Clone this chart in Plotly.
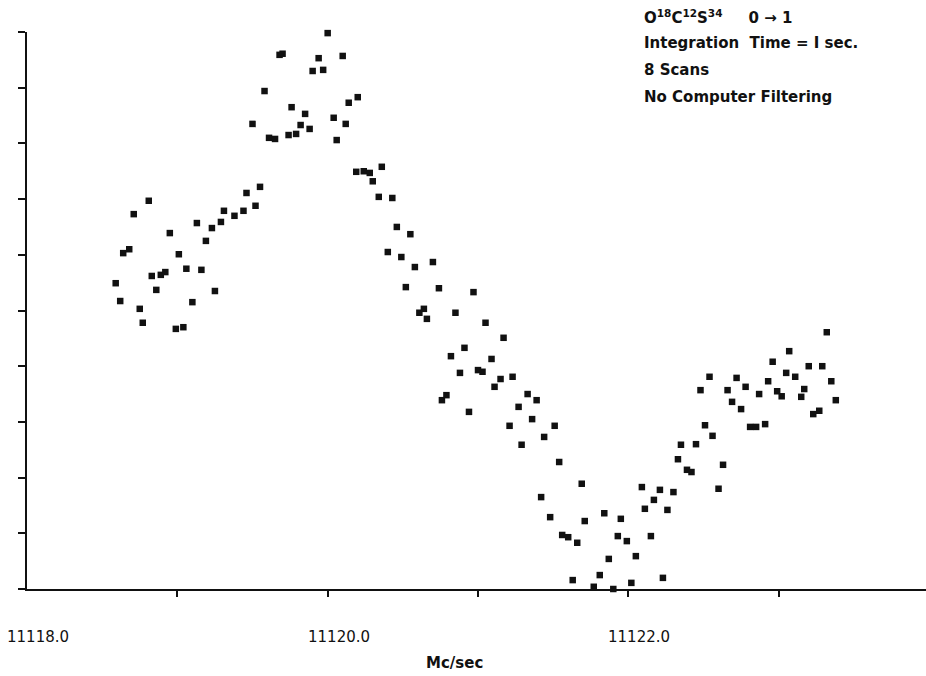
import plotly.graph_objects as go

# Frequency (Mc/sec) and relative intensity (arbitrary units, 0-100)
freq = [
    11118.59, 11118.62, 11118.64, 11118.68, 11118.71, 11118.75, 11118.77, 11118.81, 11118.83, 11118.86,
    11118.89, 11118.92, 11118.95, 11118.99, 11119.01, 11119.04, 11119.06, 11119.10, 11119.13, 11119.16,
    11119.19, 11119.23, 11119.25, 11119.29, 11119.31, 11119.38, 11119.44, 11119.46, 11119.50, 11119.52,
    11119.55, 11119.58, 11119.61, 11119.65, 11119.68, 11119.70, 11119.74, 11119.76, 11119.79, 11119.82,
    11119.85, 11119.88, 11119.90, 11119.94, 11119.97, 11120.00, 11120.04, 11120.06, 11120.10, 11120.12,
    11120.14, 11120.19, 11120.20, 11120.24, 11120.28, 11120.30, 11120.34, 11120.36, 11120.40, 11120.43,
    11120.46, 11120.49, 11120.52, 11120.55, 11120.58, 11120.61, 11120.64, 11120.66, 11120.70, 11120.74,
    11120.76, 11120.79, 11120.82, 11120.85, 11120.88, 11120.91, 11120.94, 11120.97, 11121.00, 11121.03,
    11121.05, 11121.09, 11121.11, 11121.15, 11121.17, 11121.21, 11121.23, 11121.27, 11121.29, 11121.33,
    11121.36, 11121.39, 11121.42, 11121.44, 11121.48, 11121.51, 11121.54, 11121.56, 11121.60, 11121.63,
    11121.66, 11121.69, 11121.71, 11121.77, 11121.81, 11121.84, 11121.87, 11121.90, 11121.93, 11121.95,
    11121.99, 11122.02, 11122.05, 11122.09, 11122.11, 11122.15, 11122.17, 11122.21, 11122.23, 11122.26,
    11122.30, 11122.33, 11122.35, 11122.39, 11122.42, 11122.45, 11122.48, 11122.51, 11122.54, 11122.56,
    11122.60, 11122.63, 11122.66, 11122.69, 11122.72, 11122.75, 11122.78, 11122.81, 11122.85, 11122.87,
    11122.91, 11122.93, 11122.96, 11122.99, 11123.02, 11123.05, 11123.07, 11123.11, 11123.15, 11123.17,
    11123.20, 11123.23, 11123.27, 11123.29, 11123.32, 11123.35, 11123.38,
]
intensity = [
    54.9, 51.7, 60.3, 61.0, 67.3, 50.3, 47.8, 69.7, 56.2, 53.7,
    56.4, 56.9, 63.9, 46.7, 60.1, 47.0, 57.5, 51.5, 65.7, 57.3,
    62.5, 64.8, 53.5, 65.9, 67.9, 67.0, 67.9, 71.1, 83.5, 68.8,
    72.2, 89.4, 81.0, 80.8, 95.9, 96.1, 81.5, 86.5, 81.7, 83.3,
    85.3, 82.6, 93.0, 95.3, 93.2, 99.8, 84.6, 80.6, 95.7, 83.5,
    87.3, 74.9, 88.3, 75.0, 74.7, 73.2, 70.4, 75.8, 60.5, 70.2,
    65.0, 59.6, 54.2, 63.7, 57.8, 49.6, 50.3, 48.5, 58.7, 54.0,
    33.9, 34.8, 41.8, 49.6, 38.8, 43.3, 31.8, 53.3, 39.3, 39.0,
    47.8, 41.3, 36.3, 37.7, 45.1, 29.3, 38.1, 32.7, 25.9, 35.0,
    30.5, 33.9, 16.5, 27.3, 12.9, 29.3, 22.8, 9.7, 9.3, 1.6,
    8.3, 18.9, 12.2, 0.4, 2.5, 13.6, 5.4, 0.0, 9.5, 12.6,
    8.6, 1.1, 5.9, 18.3, 14.4, 9.5, 16.0, 17.8, 2.0, 14.2,
    17.4, 23.3, 25.9, 21.4, 21.0, 26.0, 35.7, 29.4, 38.1, 27.5,
    18.0, 22.3, 35.7, 33.6, 37.9, 32.3, 36.3, 29.1, 29.1, 35.0,
    29.6, 37.3, 40.8, 35.5, 34.6, 38.8, 42.7, 38.1, 34.5, 35.9,
    40.0, 31.4, 32.0, 40.0, 46.1, 37.3, 33.9,
]

x_tick_vals = [11119, 11120, 11121, 11122, 11123]
x_label_vals = [11118.0, 11120.0, 11122.0]
x_label_text = ["11118.0", "11120.0", "11122.0"]
y_tick_vals = [0, 10, 20, 30, 40, 50, 60, 70, 80, 90, 100]

note_lines = [
    "O<sup>18</sup>C<sup>12</sup>S<sup>34</sup>     0 \u2192 1",
    "Integration  Time = I sec.",
    "8 Scans",
    "No Computer Filtering",
]

FONT = "DejaVu Sans"

fig = go.Figure()
fig.add_trace(go.Scatter(
    x=freq, y=intensity, mode="markers",
    marker=dict(symbol="square", size=6.5, color="#111111",
                line=dict(width=0)),
    cliponaxis=False, showlegend=False, hoverinfo="skip",
))

fig.update_layout(
    width=926, height=676,
    margin=dict(l=27, r=0, t=32, b=87),
    paper_bgcolor="white", plot_bgcolor="white",
    font=dict(family=FONT, color="#111111"),
    xaxis=dict(
        range=[11118.0, 11123.98], showgrid=False, zeroline=False,
        showline=True, linecolor="#111111", linewidth=2,
        tickmode="array", tickvals=x_tick_vals, showticklabels=False,
        ticks="outside", ticklen=6, tickwidth=1.5, tickcolor="#111111",
    ),
    yaxis=dict(
        range=[0, 100], showgrid=False, zeroline=False,
        showline=True, linecolor="#111111", linewidth=2,
        tickmode="array", tickvals=y_tick_vals, showticklabels=False,
        ticks="outside", ticklen=7, tickwidth=1.5, tickcolor="#111111",
    ),
)

for v, t in zip(x_label_vals, x_label_text):
    fig.add_annotation(x=v, y=0, xref="x", yref="y", yshift=-48, xshift=11,
                       text=t, showarrow=False, xanchor="center", yanchor="middle",
                       font=dict(family=FONT, size=15, color="#111111"))

fig.add_annotation(x=0.475, y=-0.133, xref="paper", yref="paper", text="<b>Mc/sec</b>",
                   showarrow=False, xanchor="center", yanchor="middle",
                   font=dict(family=FONT, size=15, color="#111111"))

line_y = [1.027, 0.980, 0.932, 0.8835]
for txt, yy in zip(note_lines, line_y):
    fig.add_annotation(x=0.684, y=yy, xref="paper", yref="paper", text="<b>" + txt + "</b>",
                       showarrow=False, xanchor="left", yanchor="middle",
                       font=dict(family=FONT, size=15, color="#111111"))

fig.write_html("out.html")
